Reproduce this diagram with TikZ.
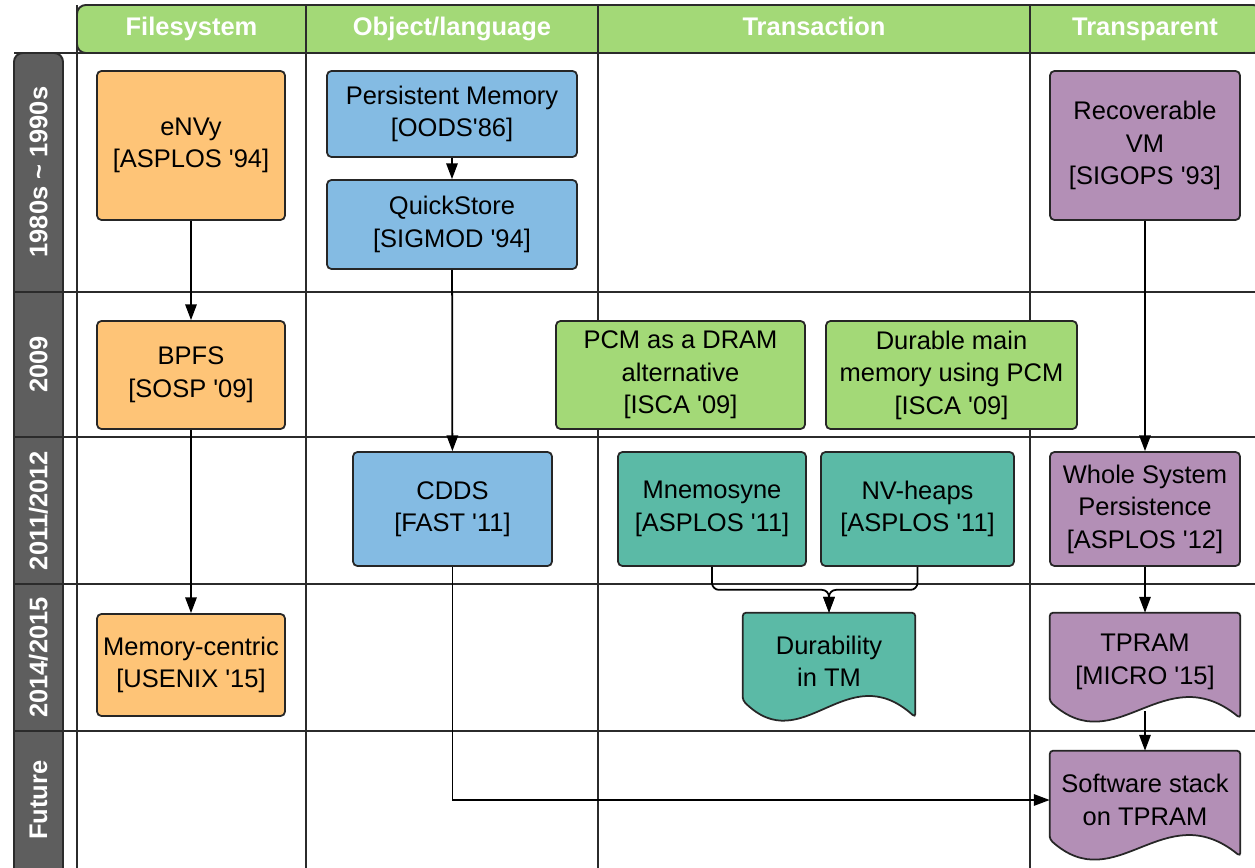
\documentclass[tikz,border=0pt]{standalone}
\usepackage{fontspec}
\setmainfont{Liberation Sans}
\usetikzlibrary{calc,arrows.meta,backgrounds}

\definecolor{hdrgreen}{HTML}{A3D977}
\definecolor{rowgray}{HTML}{5E5E5E}
\definecolor{gridcol}{HTML}{2B2B2B}
\definecolor{fsorange}{HTML}{FEC477}
\definecolor{objblue}{HTML}{84BBE3}
\definecolor{txgreen}{HTML}{A3D977}
\definecolor{txteal}{HTML}{5BBAA6}
\definecolor{tppurple}{HTML}{B38FB6}

\newcommand{\aposq}{\textquotesingle}

% outline of a "document" shape with a wavy lower edge, around node #1
\newcommand{\docoutline}[2]{%
  \filldraw[fill=#2, draw=black!85, line width=1pt, rounded corners=2pt]
    ($(#1.south west)+(0,-10)$) -- (#1.north west) -- (#1.north east)
    -- ($(#1.south east)+(0,7)$)
    .. controls ($(#1.south west)!0.6!(#1.south east)+(0,-55)$)
    and ($(#1.south west)!0.35!(#1.south east)+(0,50)$)
    .. ($(#1.south west)+(0,-10)$) -- cycle;}

\tikzset{
  gridrule/.style={draw=gridcol, line width=1.1pt},
  hdrtext/.style={text=white, anchor=base, font=\fontsize{14.5}{17}\selectfont\bfseries},
  rowtext/.style={text=white, font=\fontsize{14.5}{17}\selectfont\bfseries, rotate=90},
  paper/.style={draw=black!85, line width=1pt, rounded corners=2.5pt, align=center,
    inner sep=0pt, font=\fontsize{14.5}{18.5}\selectfont},
  docnode/.style={align=center, inner sep=0pt, font=\fontsize{14.5}{18.5}\selectfont},
  conn/.style={draw=black, line width=1pt, -{Triangle[length=9pt,width=6.5pt]}},
}

\begin{document}
\begin{tikzpicture}[x=0.02cm, y=-0.02cm]
\useasboundingbox (0,0) rectangle (1255,868);

% header band
\filldraw[fill=hdrgreen, draw=gridcol, line width=1.1pt, rounded corners=5pt]
  (77,53) -- (77,5) -- (1262,5) -- (1262,53) -- cycle;
% row label band
\filldraw[fill=rowgray, draw=gridcol, line width=1.1pt, rounded corners=5pt]
  (14,875) -- (14,53) -- (63,53) -- (63,875);

% grid lines
\foreach \yy in {53,292,437,584,731}
  \draw[gridrule] (14,\yy) -- (1262,\yy);
\foreach \xx in {77,306,598,1030}
  \draw[gridrule] (\xx,5) -- (\xx,875);

% column headers
\node[hdrtext] (hfs) at (191.5,36) {Filesystem};
\node[hdrtext] (hobj) at (452,36) {Object/language};
\node[hdrtext] (htx) at (814,36) {Transaction};
\node[hdrtext] (htp) at (1145,36) {Transparent};

% row labels
\node[rowtext] (r1) at (38.5,172) {1980s \textasciitilde{} 1990s};
\node[rowtext] (r2) at (38.5,364.5) {2009};
\node[rowtext] (r3) at (38.5,510.5) {2011/2012};
\node[rowtext] (r4) at (38.5,657.5) {2014/2015};
\node[rowtext] (r5) at (38.5,800) {Future};

% filesystem column
\node[paper, fill=fsorange, minimum width=3.76cm, minimum height=2.98cm] (envy) at (191,145.5) {eNVy\\{}[ASPLOS \aposq94]};
\node[paper, fill=fsorange, minimum width=3.76cm, minimum height=2.16cm] (bpfs) at (191,375) {BPFS\\{}[SOSP \aposq09]};
\node[paper, fill=fsorange, minimum width=3.76cm, minimum height=2.04cm] (memc) at (191,665) {Memory-centric\\{}[USENIX \aposq15]};

% object/language column
\node[paper, fill=objblue, minimum width=5.0cm, minimum height=1.72cm] (pm) at (452,114) {Persistent Memory\\{}[OODS\aposq86]};
\node[paper, fill=objblue, minimum width=5.0cm, minimum height=1.78cm] (qs) at (452,224.5) {QuickStore\\{}[SIGMOD \aposq94]};
\node[paper, fill=objblue, minimum width=3.98cm, minimum height=2.28cm] (cdds) at (452.5,509) {CDDS\\{}[FAST \aposq11]};

% transaction column
\node[paper, fill=txgreen, minimum width=4.98cm, minimum height=2.16cm] (pcm) at (680.5,375) {PCM as a DRAM\\alternative\\{}[ISCA \aposq09]};
\node[paper, fill=txgreen, minimum width=5.02cm, minimum height=2.16cm] (dmm) at (951.5,375) {Durable main\\memory using PCM\\{}[ISCA \aposq09]};
\node[paper, fill=txteal, minimum width=3.76cm, minimum height=2.28cm] (mn) at (712,509) {Mnemosyne\\{}[ASPLOS \aposq11]};
\node[paper, fill=txteal, minimum width=3.86cm, minimum height=2.28cm] (nv) at (917.5,509) {NV-heaps\\{}[ASPLOS \aposq11]};
\node[docnode, minimum width=3.44cm, minimum height=1.94cm] (dur) at (829,661.5) {Durability\\in TM};

% transparent column
\node[paper, fill=tppurple, minimum width=3.8cm, minimum height=2.98cm] (rvm) at (1145,145.5) {Recoverable\\VM\\{}[SIGOPS \aposq93]};
\node[paper, fill=tppurple, minimum width=3.8cm, minimum height=2.28cm] (wsp) at (1145,509) {Whole System\\Persistence\\{}[ASPLOS \aposq12]};
\node[docnode, minimum width=3.8cm, minimum height=1.96cm] (tpram) at (1145,662) {TPRAM\\{}[MICRO \aposq15]};
\node[docnode, minimum width=3.8cm, minimum height=1.96cm] (sws) at (1145,800) {Software stack\\on TPRAM};

% document shapes behind their texts
\begin{scope}[on background layer]
  \docoutline{dur}{txteal}
  \docoutline{tpram}{tppurple}
  \docoutline{sws}{tppurple}
\end{scope}

% connectors
\draw[conn] (envy) -- (bpfs);
\draw[conn] (bpfs) -- (memc);
\draw[conn] (pm) -- (qs);
\draw[conn] (qs) -- (cdds);
\draw[conn] (cdds.south) |- (sws.west);
\draw[conn] (rvm) -- (wsp);
\draw[conn] (wsp) -- (tpram);
\draw[conn] (tpram.south) -- (sws.north);
\draw[conn, rounded corners=4pt] (mn.south) -- ++(0,23) -| (dur.north);
\draw[conn, rounded corners=4pt] (nv.south) -- ++(0,23) -| (dur.north);

\end{tikzpicture}
\end{document}
